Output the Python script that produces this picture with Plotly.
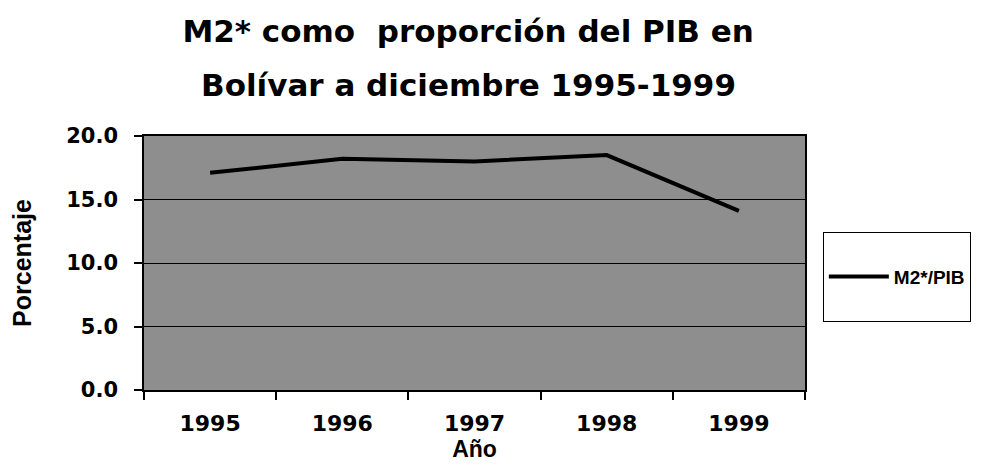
import plotly.graph_objects as go

FONT = "Liberation Sans, Arial, sans-serif"
WIDE = "DejaVu Sans, Verdana, sans-serif"
INK = "#000000"

years = ["1995", "1996", "1997", "1998", "1999"]
m2_pib = [17.1, 18.2, 18.0, 18.5, 14.1]
y_ticks = [0, 5, 10, 15, 20]
y_tick_text = ["0.0", "5.0", "10.0", "15.0", "20.0"]
title_lines = ["M2* como  proporción del PIB en", "Bolívar a diciembre 1995-1999"]

fig = go.Figure()
fig.add_trace(go.Scatter(
    x=years,
    y=m2_pib,
    mode="lines",
    # blank lines above/below make the legend box as tall as the original
    name="&nbsp;<br><b>M2*/PIB</b><br>&nbsp;",
    line=dict(color=INK, width=4),
))

# the page body adds an 8px offset, so margins are shifted by that amount
fig.update_layout(
    width=996,
    height=470,
    paper_bgcolor="#ffffff",
    plot_bgcolor="#8e8e8e",
    font=dict(family=FONT, color=INK),
    margin=dict(l=136, r=199, t=128, b=88),
    title=dict(
        text="<b>%s</b>" % title_lines[0],
        x=0.462, xanchor="center", y=0.951, yanchor="middle",
        font=dict(size=31, family=WIDE, color=INK),
    ),
    annotations=[dict(
        text="<b>%s</b>" % title_lines[1],
        xref="paper", yref="paper", x=(460 - 136) / 661, y=1.2,
        xanchor="center", yanchor="middle", showarrow=False,
        font=dict(size=31, family=WIDE, color=INK),
    )],
    xaxis=dict(
        type="category",
        range=[-0.5, 4.5],
        automargin=False,
        tickson="boundaries",
        ticks="outside", ticklen=8, tickcolor=INK, tickwidth=1.5,
        ticklabelstandoff=13,
        showline=True, linecolor=INK, linewidth=1.5, mirror=True,
        showgrid=False,
        tickfont=dict(size=22, family=WIDE, color=INK),
        tickprefix="<b>", ticksuffix="</b>",
        title=dict(text="<b>Año</b>", font=dict(size=23, family=FONT, color=INK), standoff=0),
    ),
    yaxis=dict(
        range=[0, 20],
        automargin=False,
        tickvals=y_ticks,
        ticktext=["<b>%s</b>" % t for t in y_tick_text],
        ticks="outside", ticklen=8, tickcolor=INK, tickwidth=1.5,
        ticklabelstandoff=12,
        showline=True, linecolor=INK, linewidth=1.5, mirror=True,
        showgrid=True, gridcolor=INK, gridwidth=1,
        zeroline=False,
        tickfont=dict(size=21, family=WIDE, color=INK),
        title=dict(text="<b>Porcentaje</b>", font=dict(size=25, family=FONT, color=INK), standoff=28),
    ),
    showlegend=True,
    legend=dict(
        x=1.027, xanchor="left", y=0.445, yanchor="middle",
        bordercolor=INK, borderwidth=1,
        bgcolor="#ffffff",
        font=dict(size=19, family=FONT, color=INK),
        itemwidth=60,
    ),
)

fig.write_html("out.html")
